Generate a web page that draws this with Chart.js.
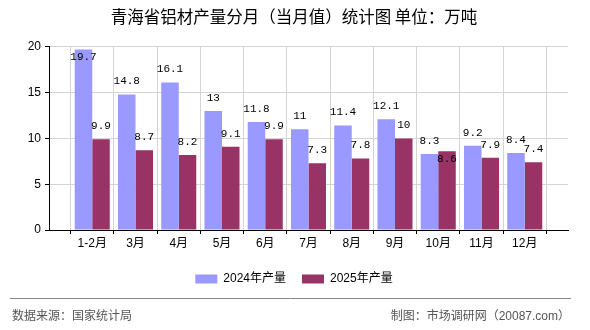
<!DOCTYPE html>
<html>
<head>
<meta charset="utf-8">
<script src="https://cdn.jsdelivr.net/npm/chart.js@4.4.1/dist/chart.umd.min.js"></script>
<style>
html, body { margin: 0; padding: 0; background: #fff; }
</style>
</head>
<body>
<canvas id="c" width="590" height="330"></canvas>
<script>
var months = ['1-2月', '3月', '4月', '5月', '6月', '7月', '8月', '9月', '10月', '11月', '12月'];
var output2024 = [19.7, 14.8, 16.1, 13, 11.8, 11, 11.4, 12.1, 8.3, 9.2, 8.4];
var output2025 = [9.9, 8.7, 8.2, 9.1, 9.9, 7.3, 7.8, 10, 8.6, 7.9, 7.4];
var yTicks = [0, 5, 10, 15, 20];

// empty slot on both ends, bars sit on the grid lines
function pad(arr) {
  return [null].concat(arr, [null]);
}

var FONT = '"Liberation Sans", "Noto Sans CJK SC", sans-serif';
Chart.defaults.color = '#000';
Chart.defaults.font.family = FONT;
Chart.defaults.font.size = 12;

var valueLabels = {
  id: 'valueLabels',
  afterDatasetsDraw: function(chart) {
    var ctx = chart.ctx, area = chart.chartArea;
    ctx.save();
    ctx.font = '11px "Liberation Mono", monospace';
    ctx.fillStyle = '#000';
    ctx.textAlign = 'center';
    ctx.textBaseline = 'middle';
    var placed = [];
    chart.data.datasets.forEach(function(ds, di) {
      chart.getDatasetMeta(di).data.forEach(function(bar, i) {
        var v = ds.data[i];
        if (v == null) return;
        var txt = String(v);
        var w = ctx.measureText(txt).width;
        var y = bar.y - 13;
        var hit = (y - 5 < area.top) || placed.some(function(p) {
          return p.i === i && Math.abs(p.y - y) < 8 && Math.abs(p.x - bar.x) < (p.w + w) / 2;
        });
        if (hit) y = bar.y + 8;
        placed.push({ i: i, x: bar.x, y: y, w: w });
        ctx.fillText(txt, bar.x, y);
      });
    });
    ctx.restore();
  }
};

var footer = {
  id: 'footer',
  afterDraw: function(chart) {
    var ctx = chart.ctx;
    ctx.save();
    ctx.strokeStyle = '#888';
    ctx.lineWidth = 1;
    ctx.beginPath();
    ctx.moveTo(10, 298.5);
    ctx.lineTo(571, 298.5);
    ctx.stroke();
    ctx.fillStyle = '#555';
    ctx.font = '12px ' + FONT;
    ctx.textBaseline = 'middle';
    ctx.textAlign = 'left';
    ctx.fillText('数据来源：国家统计局', 12, 317);
    ctx.textAlign = 'right';
    ctx.fillText('制图：市场调研网（20087.com）', 570, 317);
    ctx.restore();
  }
};

var chart = new Chart(document.getElementById('c'), {
  type: 'bar',
  data: {
    labels: pad(months).map(function(m) { return m || ''; }),
    datasets: [
      { label: '2024年产量', data: pad(output2024), backgroundColor: '#9999FF', borderWidth: 0 },
      { label: '2025年产量', data: pad(output2025), backgroundColor: '#993366', borderWidth: 0 }
    ]
  },
  options: {
    responsive: false,
    animation: false,
    categoryPercentage: 0.81,
    barPercentage: 1,
    layout: { padding: { left: 20, right: 22, top: 0, bottom: 35 } },
    plugins: {
      title: {
        display: true,
        text: '青海省铝材产量分月（当月值）统计图 单位：万吨',
        color: '#000',
        font: { size: 16.5, weight: 'normal', family: '"Noto Sans CJK SC", sans-serif' },
        padding: { top: 7, bottom: 20 }
      },
      legend: {
        position: 'bottom',
        labels: {
          boxWidth: 22,
          boxHeight: 9,
          padding: 16,
          color: '#000',
          font: { size: 12 }
        }
      },
      tooltip: { enabled: false }
    },
    scales: {
      x: {
        offset: false,
        afterFit: function(s) { s.height = 27; },
        grid: { color: '#d4d4d4', tickColor: '#000', tickLength: 4 },
        border: { color: '#000' },
        ticks: { autoSkip: false, maxRotation: 0, padding: 2, color: '#000' }
      },
      y: {
        min: 0,
        max: 20,
        afterFit: function(s) { s.width = 29; },
        afterBuildTicks: function(s) {
          s.ticks = yTicks.map(function(v) { return { value: v }; });
        },
        grid: { color: '#d4d4d4', tickColor: '#000', tickLength: 4 },
        border: { color: '#000' },
        ticks: { padding: 4, color: '#000' }
      }
    }
  },
  plugins: [valueLabels, footer]
});
</script>
</body>
</html>
